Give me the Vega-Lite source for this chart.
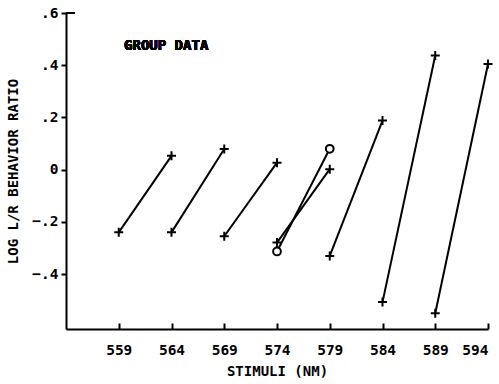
{
  "$schema": "https://vega.github.io/schema/vega-lite/v6.json",
  "width": 422,
  "height": 316,
  "autosize": {"type": "none"},
  "padding": {"left": 66, "top": 13, "right": 11, "bottom": 55},
  "background": "white",
  "config": {
    "view": {"stroke": null},
    "font": "DejaVu Sans Mono",
    "axis": {
      "labelFont": "DejaVu Sans Mono",
      "labelFontWeight": "bold",
      "labelFontSize": 14.5,
      "labelColor": "black",
      "titleFont": "DejaVu Sans Mono",
      "titleFontWeight": "bold",
      "titleFontSize": 14,
      "titleColor": "black",
      "domainColor": "black",
      "domainWidth": 2,
      "tickColor": "black",
      "tickWidth": 2,
      "grid": false
    }
  },
  "datasets": {
    "pts": [
      {"pair": "a", "nm": 559, "ratio": -0.24, "marker": "plus"},
      {"pair": "a", "nm": 564, "ratio": 0.053, "marker": "plus"},
      {"pair": "b", "nm": 564, "ratio": -0.24, "marker": "plus"},
      {"pair": "b", "nm": 569, "ratio": 0.079, "marker": "plus"},
      {"pair": "c", "nm": 569, "ratio": -0.255, "marker": "plus"},
      {"pair": "c", "nm": 574, "ratio": 0.027, "marker": "plus"},
      {"pair": "d", "nm": 574, "ratio": -0.279, "marker": "plus"},
      {"pair": "d", "nm": 579, "ratio": 0.002, "marker": "plus"},
      {"pair": "e", "nm": 574, "ratio": -0.313, "marker": "circle"},
      {"pair": "e", "nm": 579, "ratio": 0.08, "marker": "circle"},
      {"pair": "f", "nm": 579, "ratio": -0.33, "marker": "plus"},
      {"pair": "f", "nm": 584, "ratio": 0.188, "marker": "plus"},
      {"pair": "g", "nm": 584, "ratio": -0.507, "marker": "plus"},
      {"pair": "g", "nm": 589, "ratio": 0.437, "marker": "plus"},
      {"pair": "h", "nm": 589, "ratio": -0.55, "marker": "plus"},
      {"pair": "h", "nm": 594, "ratio": 0.405, "marker": "plus"}
    ]
  },
  "data": {"name": "pts"},
  "encoding": {
    "x": {
      "field": "nm",
      "type": "quantitative",
      "scale": {"domain": [554, 594], "nice": false, "zero": false},
      "axis": {
        "title": "STIMULI (NM)",
        "values": [559, 564, 569, 574, 579, 584, 589, 594],
        "format": "d",
        "tickSize": -6,
        "labelPadding": 20,
        "titlePadding": 8
      }
    },
    "y": {
      "field": "ratio",
      "type": "quantitative",
      "scale": {"domain": [-0.61, 0.6], "nice": false, "zero": false},
      "axis": {
        "title": "LOG L/R BEHAVIOR RATIO",
        "values": [-0.4, -0.2, 0, 0.2, 0.4, 0.6],
        "labelExpr": "datum.value == 0 ? '0' : replace(format(datum.value, '.1f'), '0.', '.')",
        "tickSize": 5,
        "labelPadding": 3,
        "titlePadding": 11
      }
    }
  },
  "layer": [
    {
      "mark": {"type": "rule", "color": "black", "strokeWidth": 2},
      "encoding": {"x": {"datum": 554}, "x2": {"datum": 554.85}, "y": {"datum": 0.6}}
    },
    {
      "mark": {"type": "rule", "color": "black", "strokeWidth": 1.8},
      "encoding": {"y": {"datum": 0}}
    },
    {
      "mark": {"type": "line", "color": "black", "strokeWidth": 2},
      "encoding": {"detail": {"field": "pair"}}
    },
    {
      "transform": [{"filter": "datum.marker == 'plus'"}],
      "mark": {"type": "point", "shape": "M-1,0H1M0,-1V1", "size": 81, "stroke": "black", "strokeWidth": 2, "filled": false, "opacity": 1}
    },
    {
      "transform": [{"filter": "datum.marker == 'circle'"}],
      "mark": {"type": "point", "shape": "circle", "size": 60, "stroke": "black", "strokeWidth": 2, "fill": "white", "filled": false, "opacity": 1}
    },
    {
      "mark": {"type": "text", "text": "GROUP DATA", "font": "DejaVu Sans Mono", "fontWeight": "bold", "fontSize": 14, "align": "left", "baseline": "middle", "color": "black"},
      "encoding": {"x": {"datum": 559.5}, "y": {"datum": 0.474}}
    }
  ]
}
